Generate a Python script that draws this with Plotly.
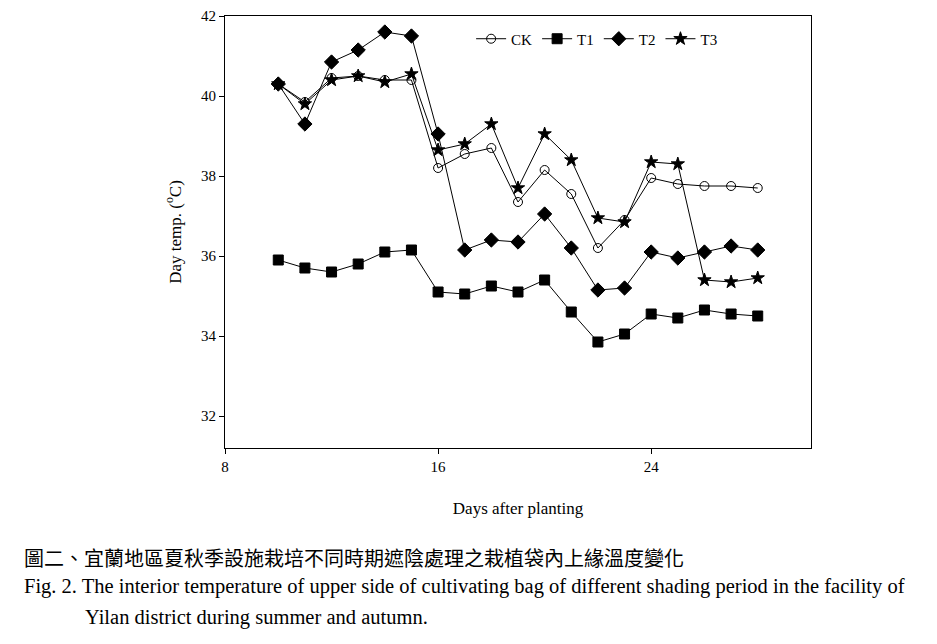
import plotly.graph_objects as go

days = list(range(10, 29))
ck = [40.3, 39.85, 40.45, 40.5, 40.4, 40.4, 38.2, 38.55, 38.7, 37.35, 38.15, 37.55, 36.2, 36.9, 37.95, 37.8, 37.75, 37.75, 37.7]
t1 = [35.9, 35.7, 35.6, 35.8, 36.1, 36.15, 35.1, 35.05, 35.25, 35.1, 35.4, 34.6, 33.85, 34.05, 34.55, 34.45, 34.65, 34.55, 34.5]
t2 = [40.3, 39.3, 40.85, 41.15, 41.6, 41.5, 39.05, 36.15, 36.4, 36.35, 37.05, 36.2, 35.15, 35.2, 36.1, 35.95, 36.1, 36.25, 36.15]
t3 = [40.3, 39.8, 40.4, 40.5, 40.35, 40.55, 38.65, 38.8, 39.3, 37.7, 39.05, 38.4, 36.95, 36.85, 38.35, 38.3, 35.4, 35.35, 35.45]

fig = go.Figure()
specs = [("CK", ck, "circle-open", 9), ("T1", t1, "square", 10), ("T2", t2, "diamond", 11), ("T3", t3, "star", 10)]
for name, ys, sym, sz in specs:
    fig.add_trace(go.Scatter(x=days, y=ys, name=name, mode="lines+markers",
                             line=dict(color="black", width=1),
                             marker=dict(symbol=sym, size=sz, color="black",
                                         line=dict(color="black", width=1))))

ax = dict(showline=True, linecolor="black", linewidth=1, mirror=True, ticks="outside",
          ticklen=5, tickcolor="black", showgrid=False, zeroline=False,
          tickfont=dict(family="Liberation Serif", size=15, color="black"))
fig.update_layout(
    width=937, height=644, plot_bgcolor="white", paper_bgcolor="white",
    margin=dict(l=217, r=134, t=8, b=204, autoexpand=False),
    font=dict(family="Liberation Serif", color="black"),
    xaxis=dict(ax, range=[8, 30], tickvals=[8, 16, 24],
               title=dict(text="Days after planting", font=dict(size=17), standoff=28)),
    yaxis=dict(ax, range=[31.2, 42], tickvals=[32, 34, 36, 38, 40, 42],
               title=dict(text="Day temp. (<sup>o</sup>C)", font=dict(size=17), standoff=15)),
    legend=dict(orientation="h", x=0.42, y=0.985, xanchor="left", yanchor="top",
                font=dict(size=15), bgcolor="rgba(0,0,0,0)"),
    annotations=[
        dict(text="圖二、宜蘭地區夏秋季設施栽培不同時期遮陰處理之栽植袋內上緣溫度變化",
             xref="paper", yref="paper", x=-203/586, y=-0.215, xanchor="left", yanchor="top",
             showarrow=False, font=dict(family="Noto Sans CJK TC", size=20)),
        dict(text="Fig. 2. The interior temperature of upper side of cultivating bag of different shading period in the facility of",
             xref="paper", yref="paper", x=-203/586, y=-0.29, xanchor="left", yanchor="top",
             showarrow=False, font=dict(size=20.5)),
        dict(text="Yilan district during summer and autumn.",
             xref="paper", yref="paper", x=-142/586, y=-0.36, xanchor="left", yanchor="top",
             showarrow=False, font=dict(size=20.5)),
    ],
)
fig.write_html("out.html")
